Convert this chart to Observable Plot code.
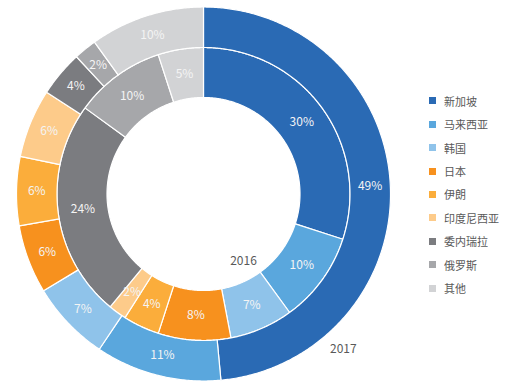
<!DOCTYPE html>
<html>
<head>
<meta charset="utf-8">
<script src="https://cdn.jsdelivr.net/npm/d3@7"></script>
<script src="https://cdn.jsdelivr.net/npm/@observablehq/plot@0.6"></script>
<style>
  html, body { margin: 0; padding: 0; background: #fff; }
  #wrap { position: relative; width: 508px; height: 385px; overflow: hidden; }
  #legend { position: absolute; left: 429px; top: 89px; }
  .lg-swatches { font: 11px "Noto Sans CJK SC", sans-serif !important; color: #595959; margin: 0 !important; }
  .lg-swatch { height: 23.45px; padding: 0 !important; margin: 0 !important; display: flex; align-items: center; }
  .lg-swatch svg { margin-right: 8px !important; }
</style>
</head>
<body>
<div id="wrap"><div id="chart"></div><div id="legend"></div></div>
<script>
const names = ["新加坡", "马来西亚", "韩国", "日本", "伊朗", "印度尼西亚", "委内瑞拉", "俄罗斯", "其他"];
const colors = ["#2a6ab4", "#5aa7dd", "#8fc3ea", "#f7911e", "#fbad3b", "#fdcb8a", "#7b7c80", "#a6a7aa", "#d2d3d5"];
const share2016 = [30, 10, 7, 8, 4, 2, 24, 10, 5];
const share2017 = [49, 11, 7, 6, 6, 6, 4, 2, 10];
const years = ["2016", "2017"];

const rings = [
  {year: years[0], values: share2016, r0: 96.5, r1: 146.5},
  {year: years[1], values: share2017, r0: 146.5, r1: 187}
];

function pt(a, r) { return [r * Math.sin(a), -r * Math.cos(a)]; }
function arcPolygon(a0, a1, r0, r1) {
  const n = Math.max(2, Math.ceil((a1 - a0) / (Math.PI / 360)));
  const pts = [];
  for (let i = 0; i <= n; i++) pts.push(pt(a0 + (a1 - a0) * i / n, r1));
  for (let i = n; i >= 0; i--) pts.push(pt(a0 + (a1 - a0) * i / n, r0));
  pts.push(pts[0]);
  return pts;
}

const features = [];
const labels = [];
for (const ring of rings) {
  const arcs = d3.pie().sort(null).value(d => d)(ring.values);
  arcs.forEach((a, i) => {
    features.push({
      type: "Feature",
      properties: {name: names[i], year: ring.year},
      geometry: {type: "Polygon", coordinates: [arcPolygon(a.startAngle, a.endAngle, ring.r0, ring.r1)]}
    });
    const [x, y] = pt((a.startAngle + a.endAngle) / 2, (ring.r0 + ring.r1) / 2);
    labels.push({x, y, text: ring.values[i] + "%"});
  });
}

// series name labels (polar placement: angle, radius)
const yearLabels = [
  {text: years[0], ...(([x, y]) => ({x, y}))(pt(149.4 * Math.PI / 180, 78.5))},
  {text: years[1], ...(([x, y]) => ({x, y}))(pt(138 * Math.PI / 180, 209))}
];

const outline = {type: "Polygon", coordinates: [arcPolygon(0, 2 * Math.PI, 0, 187).slice(0, 722)]};

const chart = Plot.plot({
  width: 508,
  height: 385,
  marginLeft: 16,
  marginRight: 118,
  marginTop: 6.5,
  marginBottom: 4.5,
  projection: {type: "identity", domain: {type: "Polygon", coordinates: [d3.range(0, 361, 1).map(d => pt(d * Math.PI / 180, 187))]}},
  color: {domain: names, range: colors},
  style: {background: "#fff", fontFamily: "\"Noto Sans CJK SC\", sans-serif"},
  marks: [
    Plot.geo(features, {fill: d => d.properties.name, stroke: "#fff", strokeWidth: 1.2}),
    Plot.text(labels, {x: "x", y: "y", text: "text", fill: "#f4f4f4", fontSize: 12}),
    Plot.text(yearLabels, {x: "x", y: "y", text: "text", fill: "#595959", fontSize: 12})
  ]
});
document.getElementById("chart").appendChild(chart);

const legend = Plot.legend({
  color: {domain: names, range: colors},
  legend: "swatches",
  columns: 1,
  swatchSize: 7,
  className: "lg"
});
document.getElementById("legend").appendChild(legend);
</script>
</body>
</html>
